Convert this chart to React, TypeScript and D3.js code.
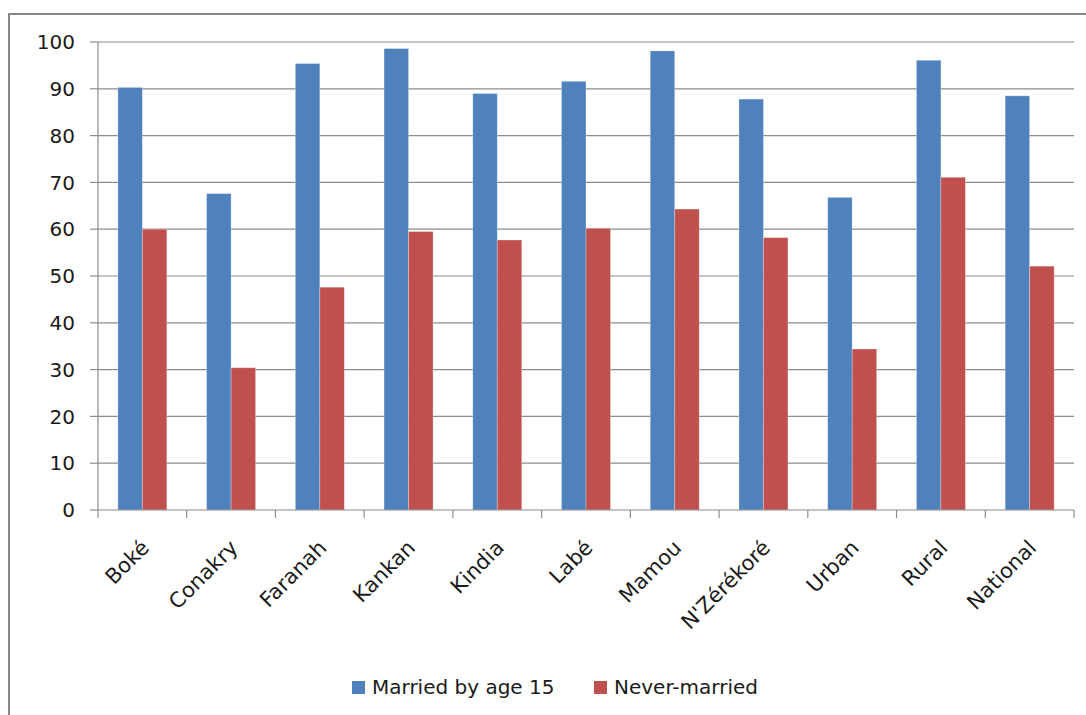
import React from "react";
import * as d3 from "d3";

const categories = ["Boké", "Conakry", "Faranah", "Kankan", "Kindia", "Labé", "Mamou", "N'Zérékoré", "Urban", "Rural", "National"];
const marriedBy15 = [90.3, 67.6, 95.4, 98.6, 89.0, 91.6, 98.1, 87.8, 66.8, 96.1, 88.5];
const neverMarried = [60.0, 30.4, 47.6, 59.5, 57.7, 60.2, 64.3, 58.2, 34.4, 71.1, 52.1];
const yTicks = [0, 10, 20, 30, 40, 50, 60, 70, 80, 90, 100];
const seriesNames = ["Married by age 15", "Never-married"];
const seriesColors = ["#4F81BD", "#C0504D"];

const W = 1086;
const H = 715;
const left = 98;
const right = 1074;
const top = 42;
const bottom = 510;
const FONT = "'DejaVu Sans', Verdana, sans-serif";

export default function App() {
  const x = d3.scaleBand<string>().domain(categories).range([left, right]).padding(0);
  const y = d3.scaleLinear().domain([0, 100]).range([bottom, top]);
  const bw = x.bandwidth();
  const barW = bw * 0.276;
  const inner = d3.scaleBand<number>().domain([0, 1]).range([0, barW * 2]);
  const series = [marriedBy15, neverMarried];

  return (
    <svg width={W} height={H} style={{ position: "absolute", left: 0, top: 0, background: "#fff" }} fontFamily={FONT}>
      <rect x={9} y={14} width={1100} height={720} fill="none" stroke="#868686" strokeWidth={2} />
      {yTicks.map((t) => (
        <g key={t}>
          {t > 0 && <line x1={left} x2={right} y1={y(t)} y2={y(t)} stroke="#8c8c8c" strokeWidth={1.2} />}
          <line x1={left - 8} x2={left} y1={y(t)} y2={y(t)} stroke="#8c8c8c" strokeWidth={1.2} />
          <text x={75} y={y(t)} dy="0.36em" textAnchor="end" fontSize={20} fill="#1a1a1a">{t}</text>
        </g>
      ))}
      <line x1={left} x2={left} y1={top} y2={bottom} stroke="#8c8c8c" strokeWidth={1.2} />
      {series.map((vals, si) =>
        vals.map((v, i) => {
          const bx = (x(categories[i]) as number) + (bw - barW * 2) / 2 + (inner(si) as number);
          return (
            <rect key={`${si}-${i}`} x={bx} y={y(v)} width={barW} height={bottom - y(v)} fill={seriesColors[si]} stroke="rgba(255,255,255,0.35)" strokeWidth={0.8} />
          );
        })
      )}
      <line x1={left} x2={right} y1={bottom} y2={bottom} stroke="#8c8c8c" strokeWidth={1.2} />
      {categories.concat([""]).map((c, i) => {
        const tx = left + i * bw;
        return <line key={`t${i}`} x1={tx} x2={tx} y1={bottom} y2={bottom + 8} stroke="#8c8c8c" strokeWidth={1.2} />;
      })}
      {categories.map((c) => {
        const cx = (x(c) as number) + bw / 2 + 8;
        const cy = 549;
        return (
          <text key={c} x={cx} y={cy} textAnchor="end" fontSize={21} fill="#1a1a1a" transform={`rotate(-45 ${cx} ${cy})`}>
            {c}
          </text>
        );
      })}
      {seriesNames.map((n, i) => {
        const lx = i === 0 ? 352 : 594;
        return (
          <g key={n}>
            <rect x={lx} y={681} width={13} height={13} fill={seriesColors[i]} />
            <text x={lx + 20} y={694} fontSize={20} fill="#1a1a1a">{n}</text>
          </g>
        );
      })}
    </svg>
  );
}
